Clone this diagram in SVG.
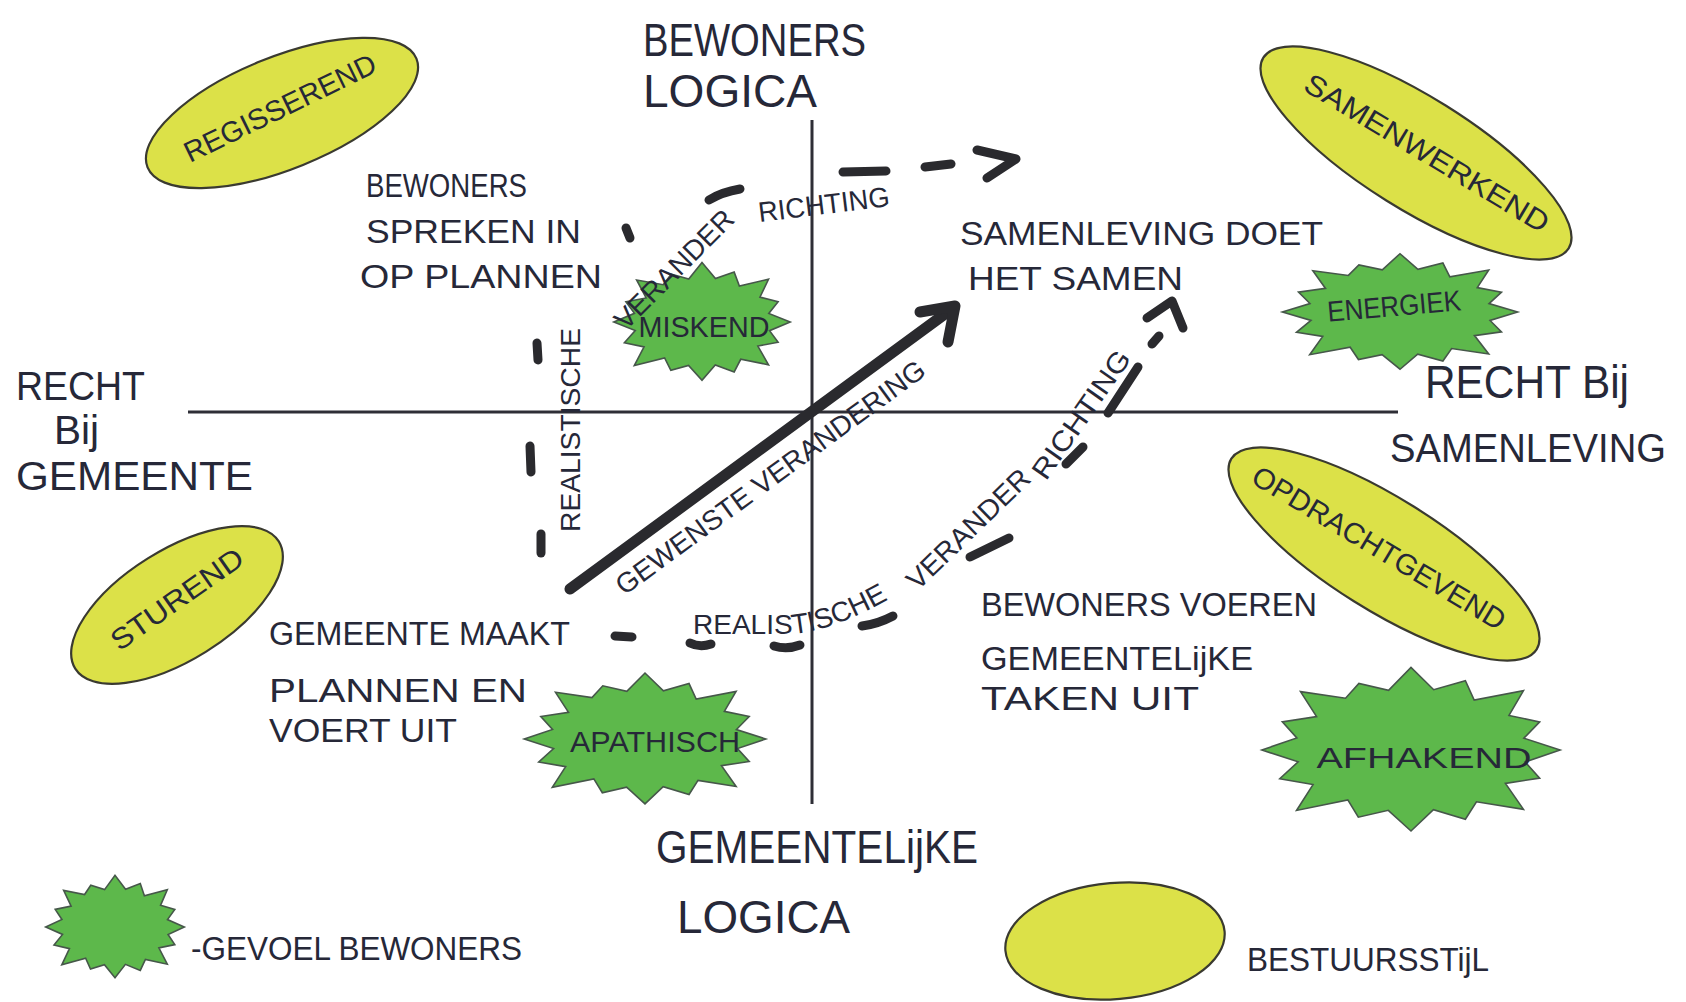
<svg xmlns="http://www.w3.org/2000/svg" width="1686" height="1002" viewBox="0 0 1686 1002">
<style>
.t{font-family:"Liberation Sans",Arial,sans-serif;fill:#262838;}
.ax{font-size:46px;}
.axs{font-size:40px;}
.b{font-size:34px;}
.s{font-size:29px;}
.r{font-size:28px;}
.yel{fill:#DCE148;stroke:#3a3a30;stroke-width:2.2;}
.grn{fill:#5DB84B;stroke:#46574a;stroke-width:1.6;}
.axis{stroke:#2e2e36;stroke-width:3;fill:none;}
.dash{stroke:#2a2a2e;stroke-width:9;stroke-linecap:round;stroke-linejoin:round;fill:none;}
.main{stroke:#2a2a2e;stroke-width:11;stroke-linecap:round;stroke-linejoin:round;fill:none;}
</style>
<defs>
<path id="splat" vector-effect="non-scaling-stroke" d="M105,0 L80.4,16 L90.6,37.5 L66.5,44.5 L79.2,79.2 L46.1,69 L38.3,92.4 L15.8,79.5 L0,108 L-16,80.4 L-37.1,89.6 L-44.5,66.5 L-80.6,80.6 L-69,46.1 L-92.4,38.3 L-79.5,15.8 L-105,0 L-80.4,-16 L-90.6,-37.5 L-66.5,-44.5 L-77.8,-77.8 L-46.1,-69 L-36.7,-88.7 L-15.8,-79.5 L0,-110 L16,-80.4 L38.3,-92.4 L44.5,-66.5 L79.2,-79.2 L69,-46.1 L90.6,-37.5 L79.5,-15.8 Z"/>
</defs>
<rect width="1686" height="1002" fill="#ffffff"/>

<g id="axes">
<line class="axis" x1="812" y1="120" x2="812" y2="804"/>
<line class="axis" x1="188" y1="412" x2="1398" y2="412"/>
</g>

<g id="axis-labels">
<text class="t ax" x="643" y="56" textLength="223" lengthAdjust="spacingAndGlyphs">BEWONERS</text>
<text class="t ax" x="643" y="107" textLength="174" lengthAdjust="spacingAndGlyphs">LOGICA</text>
<text class="t axs" x="16" y="400" textLength="129" lengthAdjust="spacingAndGlyphs">RECHT</text>
<text class="t axs" x="54" y="444" textLength="45" lengthAdjust="spacingAndGlyphs">Bij</text>
<text class="t axs" x="16" y="490" textLength="237" lengthAdjust="spacingAndGlyphs">GEMEENTE</text>
<text class="t ax" x="1425" y="398" textLength="204" lengthAdjust="spacingAndGlyphs">RECHT Bij</text>
<text class="t axs" x="1390" y="462" textLength="276" lengthAdjust="spacingAndGlyphs">SAMENLEVING</text>
<text class="t ax" x="656" y="863" textLength="322" lengthAdjust="spacingAndGlyphs">GEMEENTELijKE</text>
<text class="t ax" x="677" y="933" textLength="173" lengthAdjust="spacingAndGlyphs">LOGICA</text>
</g>

<g id="node-regisserend">
<ellipse class="yel" cx="282" cy="113" rx="145" ry="56" transform="rotate(-22 282 113)"/>
<text class="t s" text-anchor="middle" transform="translate(280 108) rotate(-26)" y="10" textLength="210" lengthAdjust="spacingAndGlyphs">REGISSEREND</text>
</g>
<g id="node-samenwerkend">
<ellipse class="yel" cx="1416" cy="153" rx="180" ry="56" transform="rotate(32 1416 153)"/>
<text class="t s" text-anchor="middle" transform="translate(1427 153) rotate(31)" y="10" textLength="280" lengthAdjust="spacingAndGlyphs">SAMENWERKEND</text>
</g>
<g id="node-opdrachtgevend">
<ellipse class="yel" cx="1384" cy="554" rx="180" ry="56" transform="rotate(32 1384 554)"/>
<text class="t s" text-anchor="middle" transform="translate(1379 548) rotate(31)" y="10" textLength="290" lengthAdjust="spacingAndGlyphs">OPDRACHTGEVEND</text>
</g>
<g id="node-sturend">
<ellipse class="yel" cx="177" cy="605" rx="120" ry="55" transform="rotate(-32 177 605)"/>
<text class="t s" text-anchor="middle" transform="translate(177 599) rotate(-35)" y="10" textLength="155" lengthAdjust="spacingAndGlyphs">STUREND</text>
</g>

<g id="node-miskend">
<use href="#splat" class="grn" transform="translate(702 322) scale(0.84 0.54)"/>
<text class="t s" text-anchor="middle" x="704" y="337" textLength="131" lengthAdjust="spacingAndGlyphs">MISKEND</text>
</g>
<g id="node-apathisch">
<use href="#splat" class="grn" transform="translate(645 739) scale(1.15 0.6)"/>
<text class="t s" text-anchor="middle" x="655" y="752" textLength="170" lengthAdjust="spacingAndGlyphs">APATHISCH</text>
</g>
<g id="node-energiek">
<use href="#splat" class="grn" transform="translate(1400 312) scale(1.12 0.53)"/>
<text class="t s" text-anchor="middle" transform="translate(1395 316) rotate(-5)" textLength="134" lengthAdjust="spacingAndGlyphs">ENERGIEK</text>
</g>
<g id="node-afhakend">
<use href="#splat" class="grn" transform="translate(1411 750) scale(1.42 0.75)"/>
<text class="t s" text-anchor="middle" x="1424" y="768" textLength="215" lengthAdjust="spacingAndGlyphs">AFHAKEND</text>
</g>

<g id="quadrant-texts">
<text class="t b" x="366" y="197" textLength="161" lengthAdjust="spacingAndGlyphs">BEWONERS</text>
<text class="t b" x="366" y="243" textLength="215" lengthAdjust="spacingAndGlyphs">SPREKEN IN</text>
<text class="t b" x="360" y="288" textLength="242" lengthAdjust="spacingAndGlyphs">OP PLANNEN</text>
<text class="t b" x="960" y="245" textLength="363" lengthAdjust="spacingAndGlyphs">SAMENLEVING DOET</text>
<text class="t b" x="968" y="290" textLength="215" lengthAdjust="spacingAndGlyphs">HET SAMEN</text>
<text class="t b" x="269" y="645" textLength="301" lengthAdjust="spacingAndGlyphs">GEMEENTE MAAKT</text>
<text class="t b" x="269" y="702" textLength="258" lengthAdjust="spacingAndGlyphs">PLANNEN EN</text>
<text class="t b" x="269" y="742" textLength="188" lengthAdjust="spacingAndGlyphs">VOERT UIT</text>
<text class="t b" x="981" y="616" textLength="336" lengthAdjust="spacingAndGlyphs">BEWONERS VOEREN</text>
<text class="t b" x="981" y="670" textLength="272" lengthAdjust="spacingAndGlyphs">GEMEENTELijKE</text>
<text class="t b" x="981" y="710" textLength="218" lengthAdjust="spacingAndGlyphs">TAKEN UIT</text>
</g>

<g id="connectors">
<g id="gewenste-verandering">
<line class="main" x1="570" y1="589" x2="953" y2="308"/>
<polyline class="main" points="920,312 955,306 948,342"/>
<text class="t r" transform="translate(770 477) rotate(-36.2)" text-anchor="middle" y="10" textLength="376" lengthAdjust="spacingAndGlyphs">GEWENSTE VERANDERING</text>
</g>
<g id="realistische-boven">
<line class="dash" x1="541" y1="534" x2="541" y2="553"/>
<line class="dash" x1="530" y1="446" x2="531" y2="472"/>
<line class="dash" x1="537" y1="343" x2="538" y2="360"/>
<line class="dash" x1="626" y1="228" x2="630" y2="238"/>
<path class="dash" d="M709,200 Q722,192 740,189"/>
<line class="dash" x1="843" y1="172" x2="886" y2="171"/>
<line class="dash" x1="925" y1="167" x2="951" y2="164"/>
<polyline class="dash" points="977,150 1016,159 987,178"/>
<text class="t r" transform="translate(580 430) rotate(-90)" text-anchor="middle" textLength="204" lengthAdjust="spacingAndGlyphs">REALISTISCHE</text>
<text class="t r" transform="translate(681 276) rotate(-45)" text-anchor="middle" textLength="156" lengthAdjust="spacingAndGlyphs">VERANDER</text>
<text class="t r" transform="translate(825 214) rotate(-7)" text-anchor="middle" textLength="132" lengthAdjust="spacingAndGlyphs">RICHTING</text>
</g>
<g id="realistische-onder">
<line class="dash" x1="615" y1="636" x2="632" y2="637"/>
<path class="dash" d="M690,643 Q700,648 711,644"/>
<path class="dash" d="M774,646 Q787,650 800,645"/>
<path class="dash" d="M862,626 Q878,624 893,616"/>
<line class="dash" x1="970" y1="557" x2="1009" y2="538"/>
<line class="dash" x1="1066" y1="464" x2="1083" y2="447"/>
<line class="dash" x1="1108" y1="413" x2="1138" y2="367"/>
<line class="dash" x1="1152" y1="344" x2="1159" y2="336"/>
<polyline class="dash" points="1147,318 1172,301 1183,328"/>
<path id="lowpath" d="M693,634 L790,634 Q835,632 905,590" fill="none"/>
<text class="t r"><textPath href="#lowpath">REALISTISCHE</textPath></text>
<text class="t r" transform="translate(975 536) rotate(-44)" text-anchor="middle" textLength="160" lengthAdjust="spacingAndGlyphs">VERANDER</text>
<text class="t r" transform="translate(1089 420) rotate(-55)" text-anchor="middle" textLength="150" lengthAdjust="spacingAndGlyphs">RICHTING</text>
</g>
</g>

<g id="legend-gevoel">
<use href="#splat" class="grn" transform="translate(115 927) scale(0.66 0.47)"/>
<text class="t b" x="191" y="960" textLength="331" lengthAdjust="spacingAndGlyphs">-GEVOEL BEWONERS</text>
</g>
<g id="legend-bestuursstijl">
<ellipse class="yel" cx="1115" cy="941" rx="110" ry="58" transform="rotate(-5 1115 941)"/>
<text class="t b" x="1247" y="971" textLength="242" lengthAdjust="spacingAndGlyphs">BESTUURSSTijL</text>
</g>
</svg>
